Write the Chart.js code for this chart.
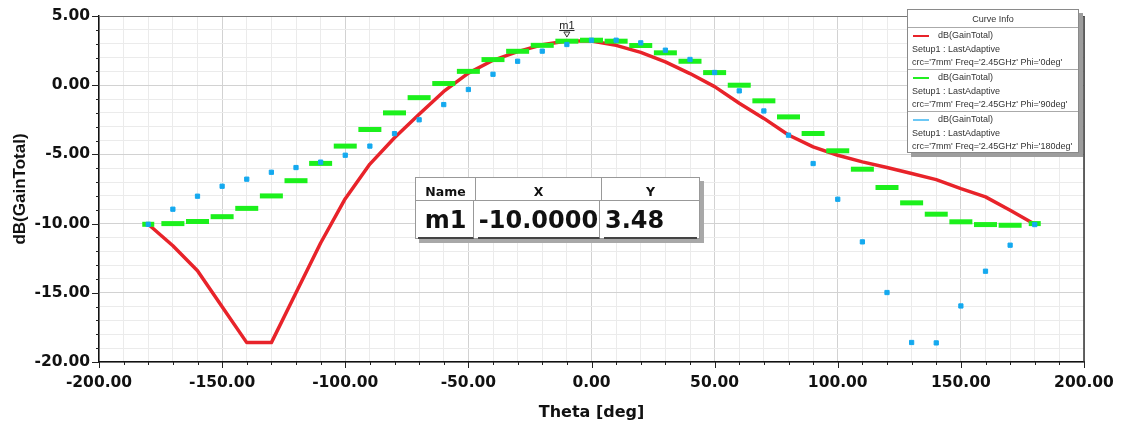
<!DOCTYPE html>
<html lang="en">
<head>
<meta charset="utf-8">
<title>dB(GainTotal)</title>
<script src="https://cdn.jsdelivr.net/npm/chart.js@4.4.1/dist/chart.umd.min.js"></script>
<style>
    body { margin: 0; background: #fff; }
    #contenedor { position: relative; width: 1121px; height: 426px; }
    #grafico { position: absolute; left: 0; top: 0; }

    /* cuadro "Curve Info" */
    #curve-info {
        position: absolute; left: 907px; top: 9px; width: 172px; height: 144px;
        background: #fff; border: 1px solid #8a8a8a; box-shadow: 4px 4px 0 #9d9d9d;
        font: 9px "Liberation Sans", Arial, sans-serif; color: #333; box-sizing: border-box;
    }
    #curve-info .titulo { height: 17px; line-height: 18px; text-align: center; border-bottom: 1px solid #aaa; }
    #curve-info .entrada { height: 42px; padding: 1px 0 0 4px; box-sizing: border-box; border-bottom: 1px solid #aaa; }
    #curve-info .entrada:last-child { border-bottom: none; }
    #curve-info .linea { height: 13.5px; line-height: 13.5px; white-space: nowrap; overflow: hidden; }
    #curve-info .muestra { display: inline-block; width: 16px; height: 0; border-top: 2px solid; vertical-align: middle; margin: 0 9px 0 1px; }

    /* tabla del marcador */
    #tabla-marcador {
        position: absolute; left: 415px; top: 177px; width: 285px; height: 62px;
        background: #fff; border: 1px solid #999; box-shadow: 4px 4px 0 #a8a8a8;
        box-sizing: border-box; font-family: "DejaVu Sans", sans-serif; font-weight: bold; color: #111;
    }
    #tabla-marcador .fila { display: flex; }
    #tabla-marcador .cabecera { height: 22px; border-bottom: 1px solid #999; font-size: 12.5px; }
    #tabla-marcador .cabecera div { padding-top: 6px; text-align: center; }
    #tabla-marcador .valores { height: 38px; font-size: 24px; }
    #tabla-marcador .valores div { line-height: 38px; text-align: center; border-bottom: 2px solid #444; margin: 0 2px; box-sizing: border-box; }
    #tabla-marcador .c1 { width: 60px; border-right: 1px solid #999; box-sizing: border-box; }
    #tabla-marcador .c2 { width: 126px; border-right: 1px solid #999; box-sizing: border-box; }
    #tabla-marcador .c3 { width: 97px; }
    #tabla-marcador .valores .c1 { width: 56px; }
    #tabla-marcador .valores .c2 { width: 122px; }
    #tabla-marcador .valores .c3 { width: 93px; text-align: left; padding-left: 1px; }
</style>
</head>
<body>
<div id="contenedor">
    <canvas id="grafico" width="1121" height="426"></canvas>
    <div id="curve-info"></div>
    <div id="tabla-marcador"></div>
</div>
<script>
// --- Datos ---
const angulos = [-180, -170, -160, -150, -140, -130, -120, -110, -100, -90, -80, -70, -60, -50, -40, -30, -20, -10,
    0, 10, 20, 30, 40, 50, 60, 70, 80, 90, 100, 110, 120, 130, 140, 150, 160, 170, 180];

// Phi = 0deg (línea roja)
const gananciaPhi0 = [-10.05, -11.6, -13.4, -16.0, -18.6, -18.6, -15.0, -11.4, -8.2, -5.7, -3.8, -2.1, -0.45, 0.87, 1.8, 2.43, 2.92, 3.2,
    3.2, 2.88, 2.37, 1.69, 0.84, -0.1, -1.3, -2.4, -3.6, -4.46, -5.06, -5.54, -5.95, -6.38, -6.82, -7.47, -8.07, -9.03, -10.05];

// Phi = 90deg (barras verdes)
const gananciaPhi90 = [-10.05, -10.0, -9.85, -9.5, -8.9, -8.0, -6.9, -5.65, -4.4, -3.2, -2.0, -0.9, 0.12, 1.0, 1.85, 2.45, 2.88, 3.18,
    3.25, 3.18, 2.87, 2.34, 1.73, 0.91, 0.0, -1.13, -2.29, -3.49, -4.74, -6.07, -7.39, -8.5, -9.32, -9.87, -10.07, -10.12, -10.0];

// Phi = 180deg (puntos azules)
const gananciaPhi180 = [-10.05, -8.96, -8.02, -7.3, -6.79, -6.29, -5.95, -5.56, -5.06, -4.4, -3.5, -2.5, -1.4, -0.31, 0.79, 1.73, 2.46, 2.94,
    3.25, 3.25, 3.06, 2.53, 1.86, 0.92, -0.41, -1.86, -3.61, -5.66, -8.24, -11.32, -14.98, -18.59, -18.62, -15.95, -13.44, -11.56, -10.07];

// Etiquetas de los ejes
const etiquetasX = [-200, -150, -100, -50, 0, 50, 100, 150, 200];
const etiquetasY = [5, 0, -5, -10, -15, -20];

// Leyenda "Curve Info"
const nombresSeries = ['dB(GainTotal)', 'dB(GainTotal)', 'dB(GainTotal)'];
const setupSeries = ['Setup1 : LastAdaptive', 'Setup1 : LastAdaptive', 'Setup1 : LastAdaptive'];
const variablesSeries = ["crc='7mm' Freq='2.45GHz' Phi='0deg'", "crc='7mm' Freq='2.45GHz' Phi='90deg'", "crc='7mm' Freq='2.45GHz' Phi='180deg'"];
const coloresSeries = ['#e8232a', '#22ee22', '#6cc8f5'];

// Marcador m1
const marcadorNombre = 'm1';
const marcadorX = -10;
const marcadorY = 3.48;

// Convierte dos arrays en pares {x, y} para Chart.js
function aPuntos(xs, ys) {
    return xs.map((a, i) => ({ x: a, y: ys[i] }));
}

// --- Leyenda en HTML ---
function generarLeyenda() {
    const caja = document.getElementById('curve-info');
    let html = '<div class="titulo">Curve Info</div>';
    nombresSeries.forEach((n, i) => {
        html += `<div class="entrada">
            <div class="linea"><span class="muestra" style="border-color:${coloresSeries[i]}"></span>${n}</div>
            <div class="linea">${setupSeries[i]}</div>
            <div class="linea">${variablesSeries[i]}</div>
        </div>`;
    });
    caja.innerHTML = html;
}

// --- Tabla del marcador ---
function generarTabla() {
    const tabla = document.getElementById('tabla-marcador');
    tabla.innerHTML = `
        <div class="fila cabecera"><div class="c1">Name</div><div class="c2">X</div><div class="c3">Y</div></div>
        <div class="fila valores"><div class="c1">${marcadorNombre}</div><div class="c2">${marcadorX.toFixed(4)}</div><div class="c3">${marcadorY.toFixed(2)}</div></div>`;
}

// Plugin: marcas de los ejes (largas en las etiquetas, cortas en el resto) y marco superior/derecho
const pluginMarcas = {
    id: 'marcas',
    afterDraw: (chart) => {
        const ctx = chart.ctx;
        const { x, y } = chart.scales;
        const area = chart.chartArea;
        ctx.save();
        ctx.strokeStyle = '#222';
        ctx.lineWidth = 1;
        x.ticks.forEach(t => {
            const px = Math.round(x.getPixelForValue(t.value)) + 0.5;
            const largo = etiquetasX.includes(t.value) ? 6 : 3;
            ctx.beginPath();
            ctx.moveTo(px, area.bottom);
            ctx.lineTo(px, area.bottom + largo);
            ctx.stroke();
        });
        y.ticks.forEach(t => {
            const py = Math.round(y.getPixelForValue(t.value)) + 0.5;
            const largo = etiquetasY.includes(t.value) ? 7 : 3;
            ctx.beginPath();
            ctx.moveTo(area.left, py);
            ctx.lineTo(area.left - largo, py);
            ctx.stroke();
        });
        // marco de arriba y de la derecha
        ctx.strokeStyle = '#777';
        ctx.beginPath();
        ctx.moveTo(area.left, area.top + 0.5);
        ctx.lineTo(area.right, area.top + 0.5);
        ctx.stroke();
        ctx.strokeStyle = '#333';
        ctx.lineWidth = 1.5;
        ctx.beginPath();
        ctx.moveTo(area.right, area.top);
        ctx.lineTo(area.right, area.bottom);
        ctx.stroke();
        ctx.restore();
    }
};

// Plugin: dibuja el marcador m1 sobre la curva
const pluginMarcador = {
    id: 'marcador',
    afterDatasetsDraw: (chart) => {
        const ctx = chart.ctx;
        const px = chart.scales.x.getPixelForValue(marcadorX);
        const py = chart.scales.y.getPixelForValue(marcadorY);
        ctx.save();
        ctx.strokeStyle = '#333';
        ctx.lineWidth = 1;
        ctx.beginPath();
        ctx.moveTo(px - 3, py - 5);
        ctx.lineTo(px + 3, py - 5);
        ctx.lineTo(px, py);
        ctx.closePath();
        ctx.stroke();
        ctx.font = '11px "Liberation Sans", Arial';
        ctx.fillStyle = '#222';
        ctx.textAlign = 'center';
        ctx.textBaseline = 'alphabetic';
        ctx.fillText(marcadorNombre, px, py - 8);
        const w = ctx.measureText(marcadorNombre).width;
        ctx.fillRect(px - w / 2, py - 7, w, 1);
        ctx.restore();
    }
};

const colorMenor = '#ebebeb';
const colorMayor = '#d2d2d2';
const fuenteTicks = { family: 'DejaVu Sans', size: 15.5, weight: 'bold' };

let grafico = new Chart(document.getElementById('grafico').getContext('2d'), {
    type: 'line',
    data: {
        datasets: [
            {
                label: 'Phi=180deg',
                data: aPuntos(angulos, gananciaPhi180),
                showLine: false,
                pointStyle: 'rect',
                pointRadius: 3,
                pointBorderWidth: 1,
                pointBackgroundColor: '#14a9ef',
                pointBorderColor: '#14a9ef',
                order: 1
            },
            {
                label: 'Phi=90deg',
                data: aPuntos(angulos, gananciaPhi90),
                showLine: false,
                pointStyle: 'line',
                // las barras de los extremos se ven a medias
                pointRadius: (c) => (c.dataIndex === 0 || c.dataIndex === angulos.length - 1) ? 6 : 11.5,
                pointBorderWidth: 5,
                pointBorderColor: '#1cf01c',
                order: 2
            },
            {
                label: 'Phi=0deg',
                data: aPuntos(angulos, gananciaPhi0),
                borderColor: '#e8232a',
                borderWidth: 3.5,
                borderJoinStyle: 'round',
                pointRadius: 0,
                tension: 0,
                order: 3
            }
        ]
    },
    options: {
        responsive: false,
        animation: false,
        layout: { padding: { top: 16, right: 37, left: 0, bottom: 0 } },
        plugins: {
            legend: { display: false },
            tooltip: { enabled: false }
        },
        scales: {
            x: {
                type: 'linear',
                min: -200,
                max: 200,
                afterFit: (s) => { s.height = 64; },
                ticks: {
                    stepSize: 10,
                    autoSkip: false,
                    maxRotation: 0,
                    padding: 5,
                    color: '#111',
                    font: fuenteTicks,
                    callback: (v) => etiquetasX.includes(v) ? v.toFixed(2) : ''
                },
                grid: {
                    color: (c) => etiquetasX.includes(c.tick.value) ? colorMayor : colorMenor,
                    tickLength: 7,
                    tickColor: 'rgba(0,0,0,0)'
                },
                border: { color: '#111', width: 1.5 },
                title: {
                    display: true,
                    text: 'Theta [deg]',
                    color: '#111',
                    font: { family: 'DejaVu Sans', size: 16, weight: 'bold' },
                    padding: { top: 0, bottom: 4 }
                }
            },
            y: {
                min: -20,
                max: 5,
                afterFit: (s) => { s.width = 99; },
                ticks: {
                    stepSize: 1,
                    autoSkip: false,
                    padding: 2,
                    color: '#111',
                    font: fuenteTicks,
                    callback: (v) => etiquetasY.includes(v) ? v.toFixed(2) : ''
                },
                grid: {
                    color: (c) => etiquetasY.includes(c.tick.value) ? colorMayor : colorMenor,
                    tickLength: 7,
                    tickColor: 'rgba(0,0,0,0)'
                },
                border: { color: '#111', width: 1.5 },
                title: {
                    display: true,
                    text: 'dB(GainTotal)',
                    color: '#111',
                    font: { family: 'Liberation Sans', size: 17, weight: 'bold' },
                    padding: { top: 10, bottom: 0 }
                }
            }
        }
    },
    plugins: [pluginMarcas, pluginMarcador]
});

generarLeyenda();
generarTabla();
</script>
</body>
</html>
